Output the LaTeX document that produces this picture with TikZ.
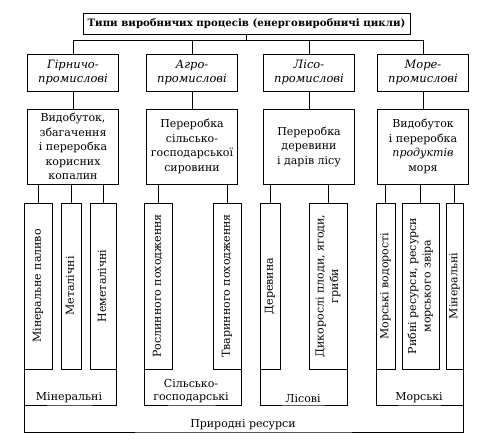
\documentclass[tikz,border=0pt]{standalone}
\usepackage{fontspec}
\setmainfont{DejaVu Serif}
\usetikzlibrary{positioning}
\newcommand{\rtext}[1]{\rotatebox{90}{\begin{tabular}{@{}c@{}}#1\end{tabular}}}

\begin{document}
\begin{tikzpicture}[x=1pt, y=-1pt,
	basic/.style   = {draw, thin, rectangle, align=center, inner sep=1pt, font=\fontsize{11}{14.5}\selectfont},
	root/.style    = {basic, font=\fontsize{10.2}{14}\selectfont\bfseries, minimum width=327, minimum height=21},
	level 1/.style = {basic, font=\fontsize{11.5}{14.5}\selectfont\itshape, minimum width=91, minimum height=37},
	level 2/.style = {basic, minimum width=91, minimum height=75},
	level 3/.style = {basic, minimum height=166},
	group/.style   = {align=center, anchor=south, inner sep=2pt, font=\fontsize{11}{13.5}\selectfont}]
	\useasboundingbox (0,0) rectangle (481,443);

	% root of the scheme
	\node[root] (c0) at (246.5,23.5) {Типи виробничих процесів (енерговиробничі цикли)};
	\coordinate (bus) at (0,40);

	% the first level, the branches
	\node[level 1] (c1) at (73,72.5)  {Гірничо-\\промислові};
	\node[level 1] (c2) at (192,72.5) {Агро-\\промислові};
	\node[level 1] (c3) at (309,72.5) {Лісо-\\промислові};
	\node[level 1] (c4) at (423,72.5) {Море-\\промислові};

	% the second level, the processing stages
	\node[level 2] (c11) at (73,146.5)  {Видобуток,\\збагачення\\і переробка\\корисних\\копалин};
	\node[level 2] (c21) at (192,146.5) {Переробка\\сільсько-\\господарської\\сировини};
	\node[level 2] (c31) at (309,146.5) {Переробка\\деревини\\і дарів лісу};
	\node[level 2] (c41) at (423,146.5) {Видобуток\\і переробка\\{\itshape продуктів}\\моря};

	% the third level, vertical boxes
	\begin{scope}[every node/.style={level 3}]
	\node[minimum width=28] (c111) at (38,286)  {\rtext{Мінеральне паливо}};
	\node[minimum width=20] (c112) at (71,286)  {\rtext{Металічні}};
	\node[minimum width=26] (c113) at (103,286) {\rtext{Неметалічні}};

	\node[minimum width=28] (c211) at (158,286) {\rtext{Рослинного походження}};
	\node[minimum width=28] (c212) at (227,286) {\rtext{Тваринного походження}};

	\node[minimum width=20] (c311) at (270,286) {\rtext{Деревина}};
	\node[minimum width=38] (c312) at (328,286) {\rtext{Дикорослі плоди, ягоди,\\гриби}};

	\node[minimum width=19] (c411) at (385.5,286) {\rtext{Морські водорості}};
	\node[minimum width=37] (c412) at (420.5,286) {\rtext{Рибні ресурси, ресурси\\морського звіра}};
	\node[minimum width=17] (c413) at (454.5,286) {\rtext{Мінеральні}};
	\end{scope}

	% groups of resources
	\node[group] (r1) at (69,405)  {Мінеральні};
	\node[group] (r2) at (191,405) {Сільсько-\\господарські};
	\node[group] (r3) at (303,405) {Лісові};
	\node[group] (r4) at (419,405) {Морські};
	\node[group] (r0) at (243,432) {Природні ресурси};

	% lines from the root to the branches
	\draw (c0.south) -- (c0.south |- bus);
	\draw (c1.north) |- (c4.north |- bus) -- (c4.north);
	\foreach \value in {2,3}
	\draw (c\value.north) -- (c\value.north |- bus);

	% lines from each branch to its stage
	\foreach \value in {1,...,4}
	\draw (c\value.south) -- (c\value1.north);

	% lines from each stage to its boxes
	\foreach \value in {1,2,3}
	\draw (c11\value.north) -- (c11\value.north |- c11.south);
	\foreach \value in {1,2}
	\draw (c21\value.north) -- (c21\value.north |- c21.south);
	\foreach \value in {1,2}
	\draw (c31\value.north) -- (c31\value.north |- c31.south);
	\foreach \value in {1,2,3}
	\draw (c41\value.north) -- (c41\value.north |- c41.south);

	% brackets under the boxes
	\draw (c111.south west) |- (r1.south) -| (c113.south east);
	\draw (c211.south west) |- (r2.south) -| (c212.south east);
	\draw (c311.south west) |- (r3.south) -| (c312.south east);
	\draw (c411.south west) |- (r4.south) -| (c413.south east);
	\draw (c111.south west) |- (r0.south) -| (c413.south east);

\end{tikzpicture}
\end{document}
